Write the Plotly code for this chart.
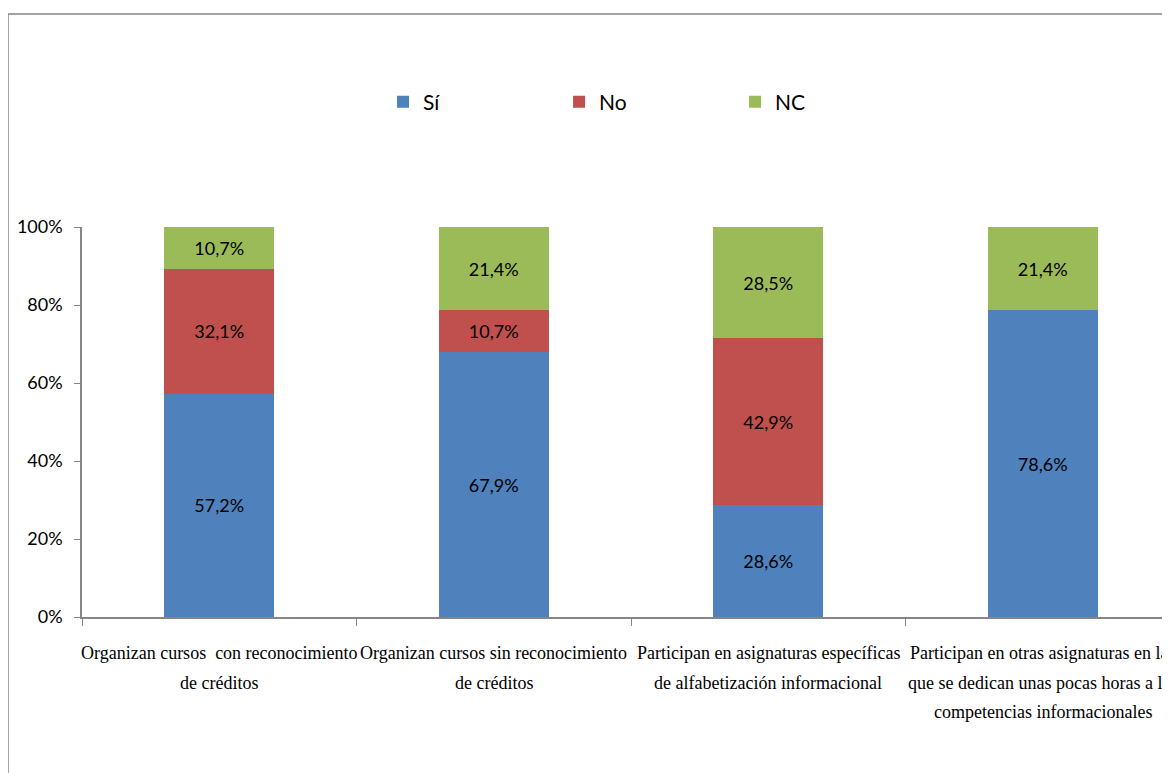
import plotly.graph_objects as go

categories = [
    "Organizan cursos  con reconocimiento<br>de créditos",
    "Organizan cursos sin reconocimiento<br>de créditos",
    "Participan en asignaturas específicas<br>de alfabetización informacional",
    "Participan en otras asignaturas en las<br>que se dedican unas pocas horas a las<br>competencias informacionales",
]
si_vals = [57.2, 67.9, 28.6, 78.6]
no_vals = [32.1, 10.7, 42.9, 0.0]
nc_vals = [10.7, 21.4, 28.5, 21.4]
series_names = ["Sí", "No", "NC"]
colors = ["#4F81BD", "#C0504D", "#9BBB59"]
y_ticks = [0, 20, 40, 60, 80, 100]
y_tick_labels = ["0%", "20%", "40%", "60%", "80%", "100%"]

cat_keys = [c.replace("<br>", " ") for c in categories]

def fmt(v):
    return "" if v == 0 else f"{v:.1f}%".replace(".", ",")

fig = go.Figure()
for name, vals, col in zip(series_names, [si_vals, no_vals, nc_vals], colors):
    fig.add_trace(go.Bar(
        x=cat_keys, y=vals, name=name,
        marker=dict(color=col, line=dict(width=0)),
        text=[fmt(v) for v in vals], textposition="inside",
        insidetextanchor="middle",
        textfont=dict(family="Lato", size=18, color="black"),
        width=0.4,
    ))

# page body has an 8px margin, so the figure is drawn 8px smaller and offset
W, H = 1162, 765
L, R, T, B = 74, 0, 219, 156
plot_w = W - L - R
cat_px = 274.5
xmax = -0.5 + plot_w / cat_px

axis_col = "#868686"
fig.update_layout(
    width=W, height=H,
    barmode="stack",
    margin=dict(l=L, r=R, t=T, b=B, pad=0),
    paper_bgcolor="white", plot_bgcolor="white",
    font=dict(family="Lato", color="black"),
    showlegend=True,
    legend=dict(orientation="h", x=0.2767, xanchor="left", y=1.32, yanchor="middle",
                font=dict(family="Lato", size=21, color="black"),
                entrywidth=131, entrywidthmode="pixels", traceorder="normal",
                bgcolor="rgba(0,0,0,0)"),
    uniformtext=dict(mode="show", minsize=10),
)
fig.update_xaxes(
    type="category", categoryorder="array", categoryarray=cat_keys,
    range=[-0.5, xmax], showticklabels=False,
    showline=True, linecolor=axis_col, linewidth=2,
    ticks="outside", tickson="boundaries", ticklen=7, tickcolor=axis_col, tickwidth=1,
    showgrid=False, zeroline=False, fixedrange=True,
)
fig.update_yaxes(
    range=[0, 100], tickvals=y_ticks, ticktext=y_tick_labels,
    showline=True, linecolor=axis_col, linewidth=1.5,
    ticks="outside", ticklen=6, tickcolor=axis_col, ticklabelstandoff=8,
    tickfont=dict(family="Lato", size=18, color="black"),
    showgrid=False, zeroline=False, fixedrange=True,
)

# category labels, one annotation per line for wide line spacing
for key, lab in zip(cat_keys, categories):
    for i, line in enumerate(lab.split("<br>")):
        fig.add_annotation(
            x=key, xref="x", y=0, yref="paper", yanchor="middle",
            yshift=-(36 + 29.5 * i), text=line, showarrow=False,
            font=dict(family="Liberation Serif", size=18, color="black"),
        )

# outer chart border
ph = H - T - B
fig.add_shape(type="rect", xref="paper", yref="paper",
              x0=(0 - L) / plot_w, x1=1.05,
              y0=-(B + 20) / ph, y1=(ph + T - 6) / ph,
              line=dict(color="#878787", width=1.5), fillcolor="rgba(0,0,0,0)",
              layer="below")

fig.write_html("out.html")
